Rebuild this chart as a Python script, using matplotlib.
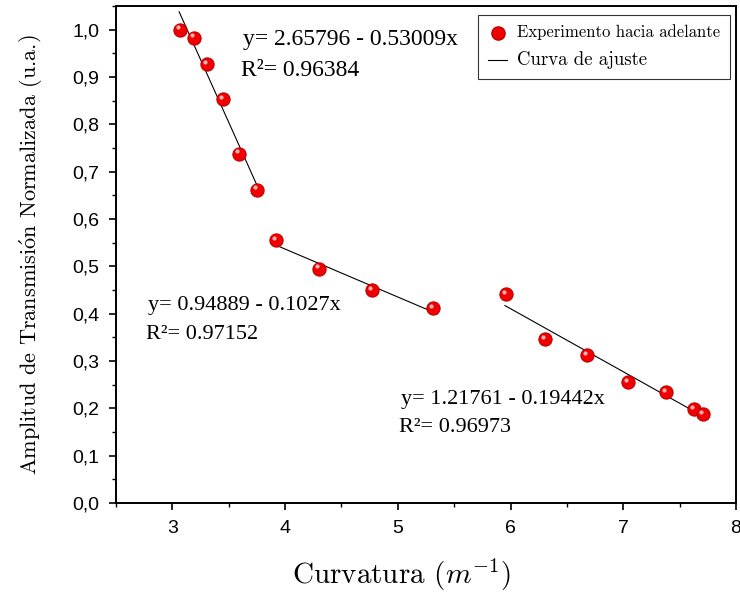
import numpy as np
import matplotlib
import matplotlib.pyplot as plt
from matplotlib import transforms
from matplotlib.lines import Line2D

matplotlib.use("Agg")
plt.rcParams["mathtext.fontset"] = "cm"

# curvature (1/m) and normalised transmission amplitude, three regimes
curv_a = [3.07, 3.19, 3.31, 3.45, 3.59, 3.75]
amp_a = [1.000, 0.983, 0.928, 0.854, 0.738, 0.662]
curv_b = [3.92, 4.30, 4.77, 5.31]
amp_b = [0.556, 0.495, 0.450, 0.412]
curv_c = [5.96, 6.31, 6.68, 7.04, 7.38, 7.63, 7.71]
amp_c = [0.442, 0.347, 0.313, 0.256, 0.235, 0.199, 0.188]

fit_labels = [
    ("y= 2.65796 - 0.53009x", "R\u00b2= 0.96384"),
    ("y= 0.94889 - 0.1027x", "R\u00b2= 0.97152"),
    ("y= 1.21761 - 0.19442x", "R\u00b2= 0.96973"),
]
y_ticks = [0.0, 0.1, 0.2, 0.3, 0.4, 0.5, 0.6, 0.7, 0.8, 0.9, 1.0]
x_ticks = [3, 4, 5, 6, 7, 8]

fig = plt.figure(figsize=(7.4, 5.93), dpi=100)
ax = fig.add_axes([116 / 740, 90 / 593, 620 / 740, 497 / 593])

segments = [(curv_a, amp_a), (curv_b, amp_b), (curv_c, amp_c)]
hl = transforms.offset_copy(ax.transData, fig=fig, x=-1.6, y=1.6, units="points")
for xs, ys in segments:
    xs = np.array(xs)
    ys = np.array(ys)
    slope, icpt = np.polyfit(xs, ys, 1)
    xl = np.array([xs.min() - 0.01, xs.max() + 0.04])
    ax.plot(xl, icpt + slope * xl, color="black", lw=0.8, zorder=2)
    ax.plot(xs, ys, "o", ms=9.5, mfc="#f00000", mec="#c00000", mew=0.8, zorder=3)
    ax.plot(xs, ys, "o", ms=3, mfc="#ffc8c8", mec="none", alpha=0.9,
            transform=hl, zorder=4)

# fit equations
eq_pos = [(0.205, 0.932, 0.871, 17), (0.052, 0.398, 0.340, 16), (0.460, 0.209, 0.151, 16)]
for (eq, r2), (fx, fy1, fy2, fs) in zip(fit_labels, eq_pos):
    ax.text(fx, fy1, eq, transform=ax.transAxes, family="Liberation Serif",
            fontsize=fs, va="center", ha="left")
    ax.text(fx - 0.004, fy2, r2, transform=ax.transAxes, family="Liberation Serif",
            fontsize=fs, va="center", ha="left")

ax.set_xlim(2.5, 8)
ax.set_ylim(0, 1.05)
ax.set_xticks(x_ticks)
ax.set_xticks(np.arange(2.5, 8.01, 0.5), minor=True)
ax.set_yticks(y_ticks)
ax.set_yticks(np.arange(0, 1.051, 0.05), minor=True)
ax.set_yticklabels([f"{v:.1f}".replace(".", ",") for v in y_ticks])
ax.set_xticklabels([str(v) for v in x_ticks])
for lab in ax.get_xticklabels() + ax.get_yticklabels():
    lab.set_family("Liberation Sans")
    lab.set_fontsize(14)
ax.tick_params(which="major", direction="out", length=5, width=1.2, pad=7)
ax.tick_params(which="minor", direction="out", length=3, width=1.0)
ax.tick_params(top=False, right=False)
for sp in ax.spines.values():
    sp.set_linewidth(1.4)

ax.set_ylabel(r"Amplitud de Transmisi$\mathrm{\acute{o}}$n Normalizada (u.a.)",
              family="cmr10", fontsize=16)
ax.yaxis.set_label_coords(-0.115, 0.50)
ax.set_xlabel(r"Curvatura $(m^{-1})$", family="cmr10", fontsize=21)
ax.xaxis.set_label_coords(0.46, -0.108)

handles = [
    Line2D([], [], marker="o", ls="none", ms=9.5, mfc="#f00000", mec="#c00000"),
    Line2D([], [], color="black", lw=0.8),
]
leg = ax.legend(handles, ["Experimento hacia adelante", "Curva de ajuste"],
                loc="upper right", bbox_to_anchor=(0.990, 0.982), borderaxespad=0,
                frameon=True, fancybox=False, edgecolor="black", handlelength=1.4,
                handletextpad=0.7, borderpad=0.7, labelspacing=0.75)
leg.get_frame().set_linewidth(0.8)
texts = leg.get_texts()
texts[0].set_family("cmr10")
texts[0].set_fontsize(12)
texts[1].set_family("cmr10")
texts[1].set_fontsize(13.5)

fig.savefig("out.png", dpi=100)
